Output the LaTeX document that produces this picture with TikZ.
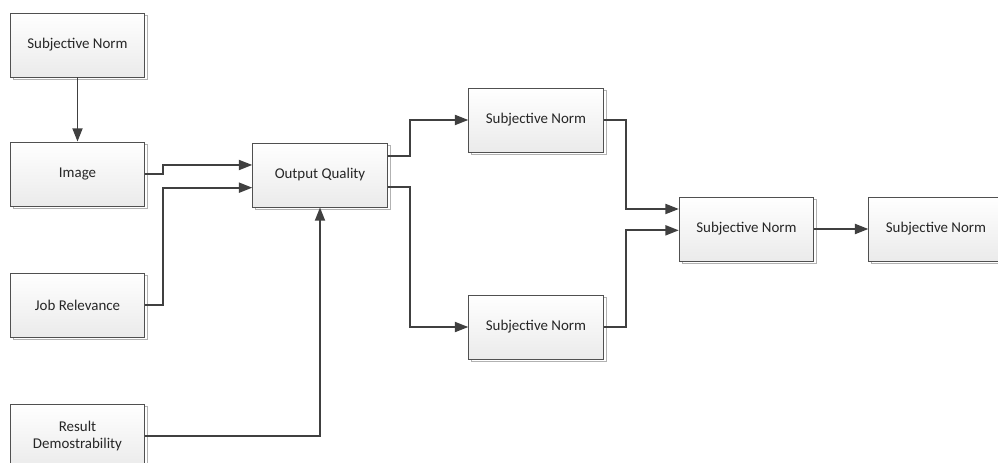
\documentclass[tikz,border=0pt]{standalone}
\usepackage{fontspec}
\setmainfont{Carlito}
\usetikzlibrary{arrows.meta,shadows}
\definecolor{linec}{HTML}{404040}
\definecolor{boxc}{HTML}{505050}
\tikzset{
  blk/.style={draw=boxc, line width=0.6pt, minimum width=101pt, minimum height=48pt,
    top color=white, bottom color=gray!16, align=center, text=black!85, font=\fontsize{11.2}{12.5}\selectfont,
    copy shadow={shadow xshift=2pt, shadow yshift=-2pt, draw=gray!60, fill=white, line width=0.5pt}},
  conn/.style={draw=linec, line width=1.4pt, -{Triangle[length=10pt,width=7.5pt]}},
}
\begin{document}
\begin{tikzpicture}[x=0.75pt,y=-0.75pt]
\useasboundingbox (0,0) rectangle (998,463);
\node[blk] (sn1) at (77.5,45) {Subjective Norm};
\node[blk] (img) at (77.5,174) {Image};
\node[blk] (job) at (77.5,305) {Job Relevance};
\node[blk] (res) at (77.5,436) {Result\\Demostrability};
\node[blk] (oq) at (320,175) {Output Quality};
\node[blk] (snt) at (536,120) {Subjective Norm};
\node[blk] (snb) at (536,327) {Subjective Norm};
\node[blk] (snm) at (746.5,229) {Subjective Norm};
\node[blk] (snr) at (936,229) {Subjective Norm};

\draw[conn] (sn1.south) -- (img.north);
\draw[conn] (img.east) -- ++(18,0) |- ([yshift=7.5pt]oq.west);
\draw[conn] (job.east) -- ++(18,0) |- ([yshift=-9.5pt]oq.west);
\draw[conn] (res.east) -| (oq.south);
\draw[conn] ([yshift=14pt]oq.east) -- ++(22,0) |- (snt.west);
\draw[conn] ([yshift=-9pt]oq.east) -- ++(22,0) |- (snb.west);
\draw[conn] (snt.east) -- ++(22,0) |- ([yshift=15pt]snm.west);
\draw[conn] (snb.east) -- ++(22,0) |- ([yshift=-1pt]snm.west);
\draw[conn] (snm.east) -- (snr.west);
\end{tikzpicture}
\end{document}
